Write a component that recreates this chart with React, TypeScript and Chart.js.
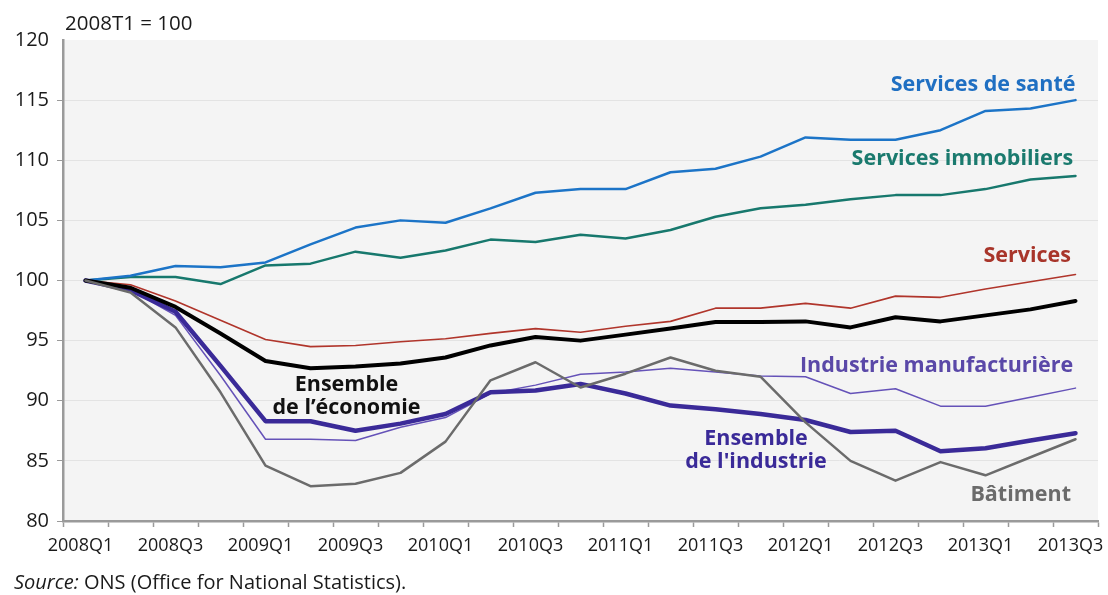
import React, { useEffect, useRef } from 'react';
import { Chart, registerables } from 'chart.js';
Chart.register(...registerables);

const quarters = [
  '2008Q1', '2008Q2', '2008Q3', '2008Q4',
  '2009Q1', '2009Q2', '2009Q3', '2009Q4',
  '2010Q1', '2010Q2', '2010Q3', '2010Q4',
  '2011Q1', '2011Q2', '2011Q3', '2011Q4',
  '2012Q1', '2012Q2', '2012Q3', '2012Q4',
  '2013Q1', '2013Q2', '2013Q3',
];

const servicesSante = [100, 100.4, 101.2, 101.1, 101.5, 103.0, 104.4, 105.0, 104.8, 106.0, 107.3, 107.6, 107.6, 109.0, 109.3, 110.3, 111.9, 111.7, 111.7, 112.5, 114.1, 114.3, 115.0];
const servicesImmobiliers = [100, 100.3, 100.3, 99.7, 101.25, 101.4, 102.4, 101.9, 102.5, 103.4, 103.2, 103.8, 103.5, 104.2, 105.3, 106.0, 106.3, 106.75, 107.1, 107.1, 107.6, 108.4, 108.7];
const services = [100, 99.65, 98.3, 96.7, 95.1, 94.5, 94.6, 94.9, 95.15, 95.6, 96.0, 95.7, 96.2, 96.6, 97.7, 97.7, 98.1, 97.7, 98.7, 98.6, 99.3, 99.9, 100.5];
const ensembleEconomie = [100, 99.4, 97.8, 95.6, 93.3, 92.7, 92.85, 93.1, 93.6, 94.6, 95.3, 95.0, 95.5, 96.0, 96.55, 96.55, 96.6, 96.1, 96.95, 96.6, 97.1, 97.6, 98.3];
const ensembleIndustrie = [100, 99.2, 97.4, 92.9, 88.3, 88.3, 87.5, 88.1, 88.9, 90.7, 90.85, 91.4, 90.6, 89.6, 89.3, 88.9, 88.4, 87.4, 87.5, 85.8, 86.05, 86.7, 87.3];
const industrieManufacturiere = [100, 99.2, 97.1, 92.1, 86.8, 86.8, 86.7, 87.8, 88.6, 90.6, 91.3, 92.2, 92.4, 92.7, 92.4, 92.05, 92.0, 90.6, 91.0, 89.55, 89.55, 90.3, 91.05];
const batiment = [100, 99.0, 96.1, 90.7, 84.6, 82.9, 83.1, 84.0, 86.6, 91.7, 93.2, 91.1, 92.25, 93.6, 92.5, 92.0, 88.2, 85.0, 83.35, 84.9, 83.8, 85.3, 86.8];

const yTicks = [80, 85, 90, 95, 100, 105, 110, 115, 120];

const FONT = '"Open Sans", "DejaVu Sans", sans-serif';

// series labels anchored in data coordinates (x index, y value)
const seriesLabels = [
  { lines: ['Services de santé'], idx: 22, value: 116.3, align: 'right', color: '#1f6fc2' },
  { lines: ['Services immobiliers'], idx: 21.95, value: 110.1, align: 'right', color: '#1a7a6e' },
  { lines: ['Services'], idx: 21.9, value: 102.05, align: 'right', color: '#a8352a' },
  { lines: ['Industrie manufacturière'], idx: 21.95, value: 92.9, align: 'right', color: '#5a48a8' },
  { lines: ['Ensemble', "de l'industrie"], idx: 14.9, value: 86.8, align: 'center', color: '#3a2a98' },
  { lines: ['Ensemble', 'de l\u2019économie'], idx: 5.8, value: 91.3, align: 'center', color: '#111111' },
  { lines: ['Bâtiment'], idx: 21.9, value: 82.2, align: 'right', color: '#6b6b6b' },
];

export default function App() {
  const ref = useRef<HTMLCanvasElement>(null);

  useEffect(() => {
    if (!ref.current) return;

    const bgPlugin = {
      id: 'plotBg',
      beforeDraw(chart: any) {
        const { ctx, chartArea: a } = chart;
        ctx.save();
        ctx.fillStyle = '#ffffff';
        ctx.fillRect(0, 0, chart.width, chart.height);
        ctx.fillStyle = '#f4f4f4';
        ctx.fillRect(a.left, a.top, a.right - a.left, a.bottom - a.top);
        ctx.restore();
      },
    };

    const textPlugin = {
      id: 'texts',
      afterDraw(chart: any) {
        const { ctx } = chart;
        const xs = chart.scales.x;
        const ys = chart.scales.y;
        ctx.save();
        ctx.textBaseline = 'middle';
        // unit note
        ctx.font = `20.5px ${FONT}`;
        ctx.fillStyle = '#1a1a1a';
        ctx.textAlign = 'left';
        ctx.fillText('2008T1 = 100', 65, 24);
        // source
        ctx.font = `italic 20px ${FONT}`;
        const s1 = 'Source:';
        ctx.fillText(s1, 14, 583);
        const w1 = ctx.measureText(s1).width;
        ctx.font = `20px ${FONT}`;
        ctx.fillText(' ONS (Office for National Statistics).', 14 + w1, 583);
        // series labels
        ctx.font = `bold 21.5px ${FONT}`;
        for (const l of seriesLabels) {
          ctx.fillStyle = l.color;
          ctx.textAlign = l.align as CanvasTextAlign;
          const x = xs.getPixelForValue(l.idx);
          const y = ys.getPixelForValue(l.value);
          l.lines.forEach((t, k) => ctx.fillText(t, x, y + k * 23));
        }
        ctx.restore();
      },
    };

    const mk = (label: string, data: number[], color: string, width: number, order: number) => ({
      label,
      data,
      borderColor: color,
      backgroundColor: color,
      borderWidth: width,
      pointRadius: 0,
      tension: 0,
      fill: false,
      borderJoinStyle: 'round' as const,
      borderCapStyle: 'round' as const,
      order,
    });

    const chart = new Chart(ref.current, {
      type: 'line',
      data: {
        labels: quarters,
        datasets: [
          mk('Services immobiliers', servicesImmobiliers, '#17786d', 2.5, 7),
          mk('Services de santé', servicesSante, '#1c74c7', 2.5, 6),
          mk('Services', services, '#b0352b', 1.6, 5),
          mk('Industrie manufacturière', industrieManufacturiere, '#6552b8', 1.5, 4),
          mk("Ensemble de l'industrie", ensembleIndustrie, '#3a2a98', 4.5, 3),
          mk("Ensemble de l'économie", ensembleEconomie, '#000000', 4, 2),
          mk('Bâtiment', batiment, '#6b6b6b', 2.5, 1),
        ],
      },
      options: {
        responsive: false,
        animation: false,
        devicePixelRatio: 1,
        layout: { padding: { left: 0, top: 40, right: 10, bottom: 0 } },
        plugins: {
          legend: { display: false },
          tooltip: { enabled: false },
          title: { display: false },
        },
        scales: {
          x: {
            type: 'category',
            offset: true,
            afterFit: (s: any) => {
              s.height = 74;
              s.paddingLeft = 0;
              s.paddingRight = 0;
            },
            grid: {
              offset: true,
              drawOnChartArea: false,
              drawTicks: true,
              tickLength: 6,
              tickColor: '#9a9a9a',
              tickWidth: 1.5,
            },
            border: { display: true, color: '#9a9a9a', width: 2.5 },
            ticks: {
              autoSkip: false,
              maxRotation: 0,
              minRotation: 0,
              labelOffset: -5,
              padding: 8,
              color: '#1a1a1a',
              font: { family: FONT, size: 18 },
              callback: (_v: any, i: number) => (i % 2 === 0 ? quarters[i] : ''),
            },
          },
          y: {
            min: 80,
            max: 120,
            afterFit: (s: any) => {
              s.width = 63;
              s.paddingTop = 0;
              s.paddingBottom = 0;
            },
            afterBuildTicks: (s: any) => { s.ticks = yTicks.map((v) => ({ value: v })); },
            grid: {
              color: (c: any) => (c.tick && (c.tick.value === 80 || c.tick.value === 120) ? 'rgba(0,0,0,0)' : '#e3e3e3'),
              tickColor: (c: any) => (c.tick && c.tick.value === 120 ? 'rgba(0,0,0,0)' : '#9a9a9a'),
              lineWidth: 1,
              drawTicks: true,
              tickLength: 6,
            },
            border: { display: true, color: '#9a9a9a', width: 2.5 },
            ticks: {
              padding: 8,
              color: '#1a1a1a',
              font: { family: FONT, size: 20 },
            },
          },
        },
      },
      plugins: [bgPlugin, textPlugin],
    });

    return () => chart.destroy();
  }, []);

  return (
    <div style={{ position: 'absolute', left: 0, top: 0, width: 1108, height: 595, background: '#fff' }}>
      <canvas ref={ref} width={1108} height={595} style={{ display: 'block' }} />
    </div>
  );
}
